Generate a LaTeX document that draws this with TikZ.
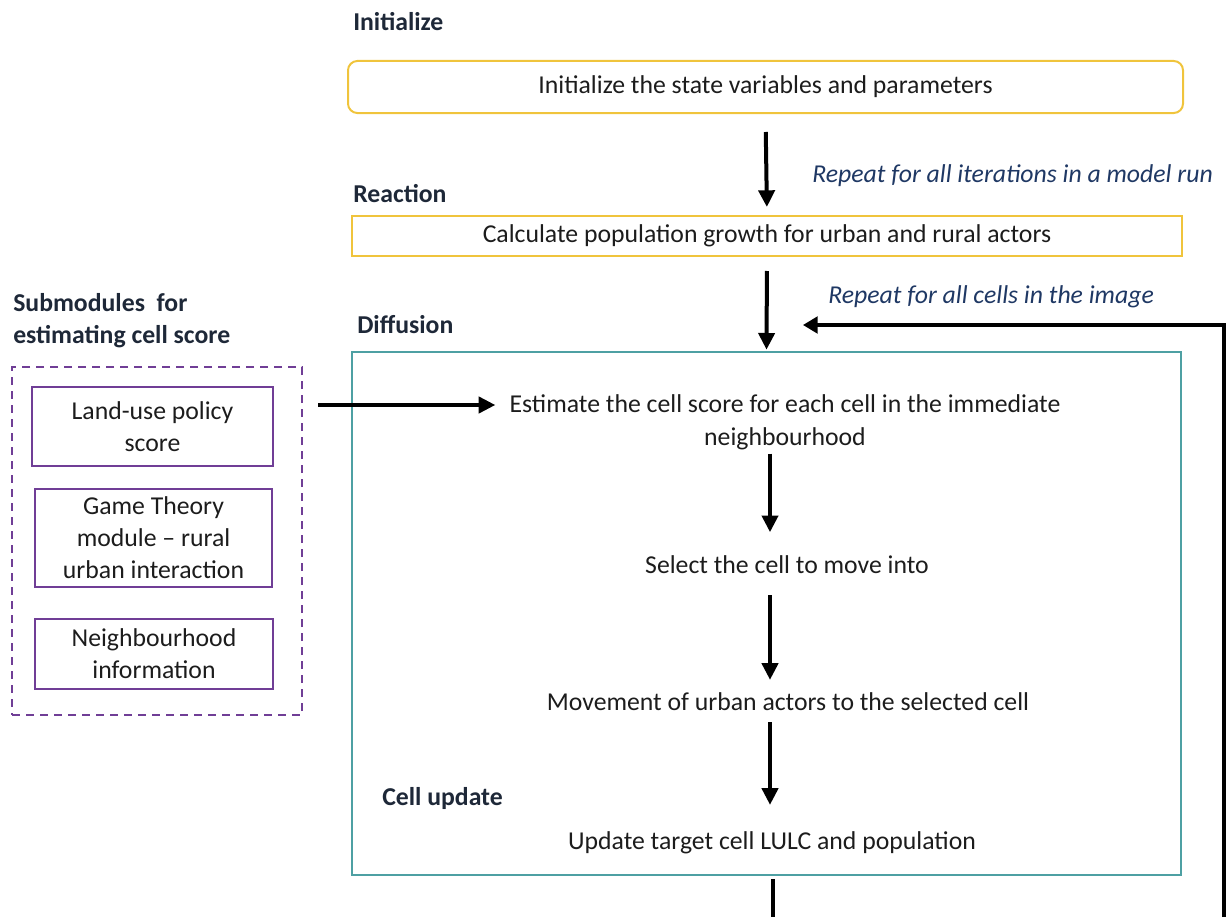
\documentclass[tikz,border=0pt]{standalone}
\usepackage{fontspec}
\setmainfont{Carlito}
\usetikzlibrary{arrows.meta}

\definecolor{bodyink}{RGB}{28,28,28}
\definecolor{stageink}{RGB}{30,40,56}
\definecolor{noteink}{RGB}{31,56,100}
\definecolor{gold}{RGB}{240,196,60}
\definecolor{teal}{RGB}{78,160,163}
\definecolor{plum}{RGB}{112,62,150}

\begin{document}
\begin{tikzpicture}[x=0.75pt,y=-0.75pt,
  every node/.style={inner sep=0pt,text=bodyink,
    font=\fontsize{19.3pt}{24pt}\selectfont},
  stage/.style={anchor=base west,text=stageink,
    font=\fontsize{19.3pt}{24pt}\selectfont\bfseries},
  note/.style={anchor=base west,text=noteink,
    font=\fontsize{19.3pt}{24pt}\selectfont\itshape},
  goldbox/.style={draw=gold,line width=1.5pt},
  subbox/.style={draw=plum,line width=1.5pt,align=center},
  flow/.style={line width=3pt,-{Triangle[length=12.5pt,width=12pt]}},
  loopline/.style={line width=2.4pt,-{Triangle[length=11pt,width=12.5pt]}},
  steptext/.style={anchor=base,align=center},
]
\path[use as bounding box] (0,0) rectangle (1227,917);

% stage headings (multi-line nodes sit on the baseline of their last line)
\node[stage] (hInit) at (353,31) {Initialize};
\node[stage] (hReact) at (353,202) {Reaction};
\node[stage] (hDiff) at (357,333) {Diffusion};
\node[stage] (hCell) at (382,805) {Cell update};
\node[stage,align=left] (hSub) at (13,343) {Submodules\ \ for\\estimating cell score};

% loop notes
\node[note] (nIter) at (812,182) {Repeat for all iterations in a model run};
\node[note] (nCells) at (828,303) {Repeat for all cells in the image};

% main stages
\node[goldbox,rounded corners=7pt,minimum width=626.25pt,minimum height=39pt]
  (init) at (765.5,87) {Initialize the state variables and parameters};
\node[goldbox,minimum width=622.5pt,minimum height=30pt]
  (react) at (767,236) {Calculate population growth for urban and rural actors};
\node[draw=teal,line width=1.5pt,minimum width=621.75pt,minimum height=392.25pt]
  (diff) at (766.5,613.5) {};

% steps inside the diffusion block
\node[steptext] (est) at (785,445) {Estimate the cell score for each cell in the immediate\\[0.75pt]neighbourhood};
\node[steptext] (sel) at (787,573) {Select the cell to move into};
\node[steptext] (mov) at (788,710) {Movement of urban actors to the selected cell};
\node[steptext] (upd) at (772,849) {Update target cell LULC and population};

% submodules
\node[draw=plum,line width=1.5pt,dashed,dash pattern=on 6pt off 4.5pt,
  minimum width=217.5pt,minimum height=261pt] (subs) at (157,541) {};
\node[subbox,minimum width=180.75pt,minimum height=59.25pt]
  (land) at (152.5,426.5) {Land-use policy\\score};
\node[subbox,minimum width=177.75pt,minimum height=73.5pt]
  (game) at (153.5,538) {Game Theory\\module -- rural\\urban interaction};
\node[subbox,minimum width=178.5pt,minimum height=52.5pt]
  (nbh) at (154,654) {Neighbourhood\\information};

% helper points
\coordinate (axis) at (770,0);
\coordinate (estrow) at ([yshift=30pt]est.base);
\coordinate (outfoot) at (773,917);
\coordinate (loopfoot) at (1224,917);
\coordinate (loopcorner) at (1224,325);
\coordinate (looptip) at (803,325);

% connectors
\draw[flow,shorten <=13.5pt,shorten >=6pt] (init.south) -- (react.north);
\draw[flow,shorten <=10.5pt,shorten >=1pt] (react.south) -- (diff.north);
\draw[flow,shorten <=3pt,shorten >=17pt] (est.south -| axis) -- (sel.north -| axis);
\draw[flow,shorten <=16.5pt,shorten >=9pt] (sel.south -| axis) -- (mov.north -| axis);
\draw[flow,shorten <=9pt,shorten >=19.5pt] (mov.south -| axis) -- (upd.north -| axis);
\draw[line width=3pt,shorten <=19pt] (upd.south -| outfoot) -- (outfoot);
\draw[flow,shorten >=10.5pt] ([xshift=33pt]land.east |- estrow) -- (estrow -| est.west);
\draw[loopline] (loopfoot) -- (loopcorner) -- (looptip);
\end{tikzpicture}
\end{document}
